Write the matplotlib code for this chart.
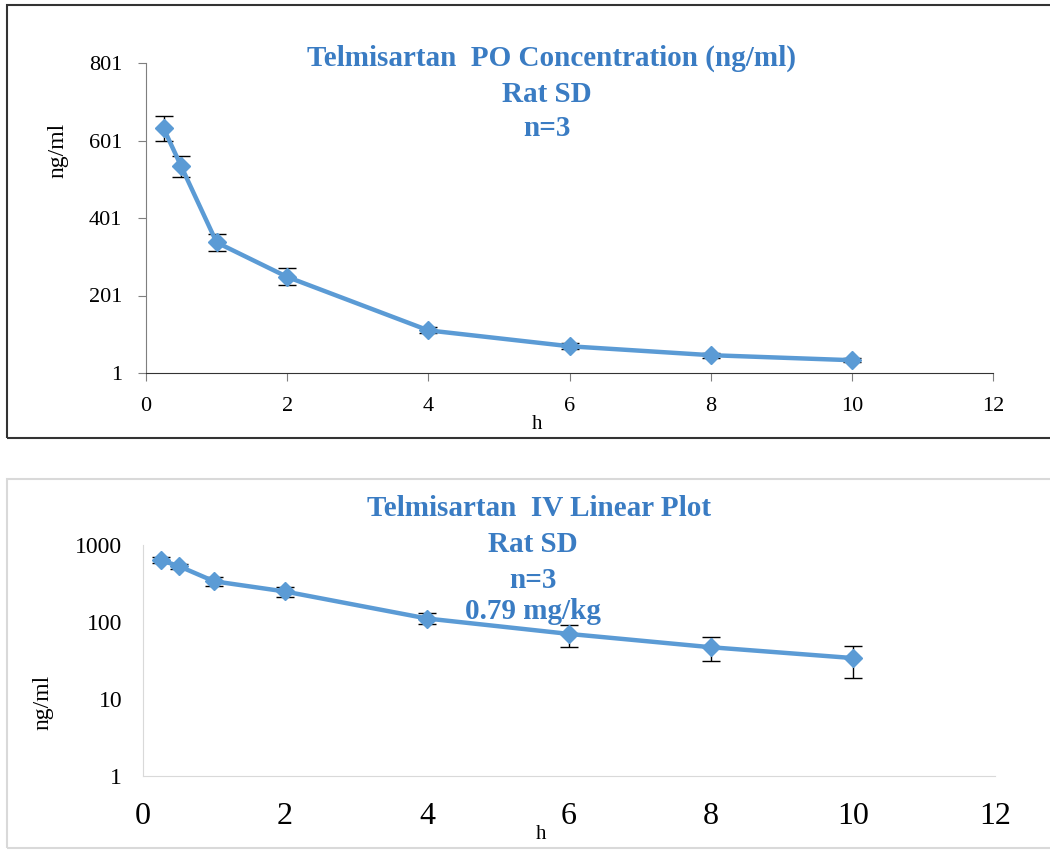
import matplotlib
matplotlib.use("Agg")
import matplotlib.pyplot as plt
from matplotlib.patches import Rectangle

# sampling times (h)
hours = [0.25, 0.5, 1, 2, 4, 6, 8, 10]

# PO concentration (ng/ml) and SD
po_mean = [632, 534, 338, 249, 111, 70, 47, 34]
po_sd = [32, 28, 22, 22, 8, 8, 6, 5]

# IV concentration (ng/ml) and SD
iv_mean = [635, 534, 338, 249, 111, 70, 47, 34]
iv_sd = [55, 40, 44, 40, 18, 22, 16, 15]

po_yticks = [1, 201, 401, 601, 801]
iv_yticks = [1, 10, 100, 1000]
xticks = [0, 2, 4, 6, 8, 10, 12]

line_color = "#5b9bd5"
title_color = "#3a7cc3"
serif = ["Liberation Serif", "DejaVu Serif"]

plt.rcParams["font.family"] = serif

fig = plt.figure(figsize=(10.5, 8.5), dpi=100)

# panel frames
fig.patches.append(Rectangle((7 / 1050, 1 - 438 / 850), 1.1, (438 - 5) / 850,
                             transform=fig.transFigure, fill=False,
                             edgecolor="#333333", linewidth=1.5))
fig.patches.append(Rectangle((7 / 1050, 1 - 848 / 850), 1.1, (848 - 479) / 850,
                             transform=fig.transFigure, fill=False,
                             edgecolor="#d9d9d9", linewidth=1.5))

# ---- top: PO ----
ax1 = fig.add_axes([146 / 1050, 1 - 373 / 850, (993 - 146) / 1050, (373 - 63) / 850])
ax1.errorbar(hours, po_mean, yerr=po_sd, color=line_color, linewidth=3.2,
             marker="D", markersize=9, ecolor="black", elinewidth=1,
             capsize=6.5, capthick=1)
ax1.set_xlim(0, 12)
ax1.set_ylim(1, 801)
ax1.set_xticks(xticks)
ax1.set_yticks(po_yticks)
ax1.spines["top"].set_visible(False)
ax1.spines["right"].set_visible(False)
ax1.spines["left"].set_color("#7f7f7f")
ax1.spines["bottom"].set_color("#333333")
ax1.tick_params(axis="both", labelsize=16, length=6, color="#7f7f7f", pad=11)
ax1.set_xlabel("h", fontsize=15)
ax1.xaxis.set_label_coords(0.462, -0.135)
ax1.set_ylabel("ng/ml", fontsize=17)
ax1.yaxis.set_label_coords(-0.092, 0.719)
ax1.text(0.479, 1.016, "Telmisartan  PO Concentration (ng/ml)", transform=ax1.transAxes,
         ha="center", va="center", fontsize=21, fontweight="bold", color=title_color)
ax1.text(0.473, 0.897, "Rat SD", transform=ax1.transAxes,
         ha="center", va="center", fontsize=21, fontweight="bold", color=title_color)
ax1.text(0.473, 0.790, "n=3", transform=ax1.transAxes,
         ha="center", va="center", fontsize=21, fontweight="bold", color=title_color)

# ---- bottom: IV ----
ax2 = fig.add_axes([143 / 1050, 1 - 776 / 850, (995 - 143) / 1050, (776 - 545) / 850])
ax2.errorbar(hours, iv_mean, yerr=iv_sd, color=line_color, linewidth=3.2,
             marker="D", markersize=9, ecolor="black", elinewidth=1,
             capsize=6.5, capthick=1)
ax2.set_yscale("log")
ax2.set_xlim(0, 12)
ax2.set_ylim(1, 1000)
ax2.set_xticks(xticks)
ax2.set_yticks(iv_yticks)
ax2.set_yticklabels([str(v) for v in iv_yticks])
ax2.minorticks_off()
ax2.spines["top"].set_visible(False)
ax2.spines["right"].set_visible(False)
ax2.spines["left"].set_color("#d9d9d9")
ax2.spines["bottom"].set_color("#d9d9d9")
ax2.tick_params(axis="y", labelsize=17, length=0, pad=15)
ax2.tick_params(axis="x", labelsize=23, length=0, pad=19)
ax2.set_xlabel("h", fontsize=15)
ax2.xaxis.set_label_coords(0.467, -0.21)
ax2.set_ylabel("ng/ml", fontsize=17)
ax2.yaxis.set_label_coords(-0.105, 0.32)
ax2.text(0.465, 1.160, "Telmisartan  IV Linear Plot", transform=ax2.transAxes,
         ha="center", va="center", fontsize=21, fontweight="bold", color=title_color)
ax2.text(0.458, 1.0, "Rat SD", transform=ax2.transAxes,
         ha="center", va="center", fontsize=21, fontweight="bold", color=title_color)
ax2.text(0.458, 0.848, "n=3", transform=ax2.transAxes,
         ha="center", va="center", fontsize=21, fontweight="bold", color=title_color)
ax2.text(0.458, 0.71, "0.79 mg/kg", transform=ax2.transAxes,
         ha="center", va="center", fontsize=21, fontweight="bold", color=title_color)

fig.savefig("out.png", dpi=100)
